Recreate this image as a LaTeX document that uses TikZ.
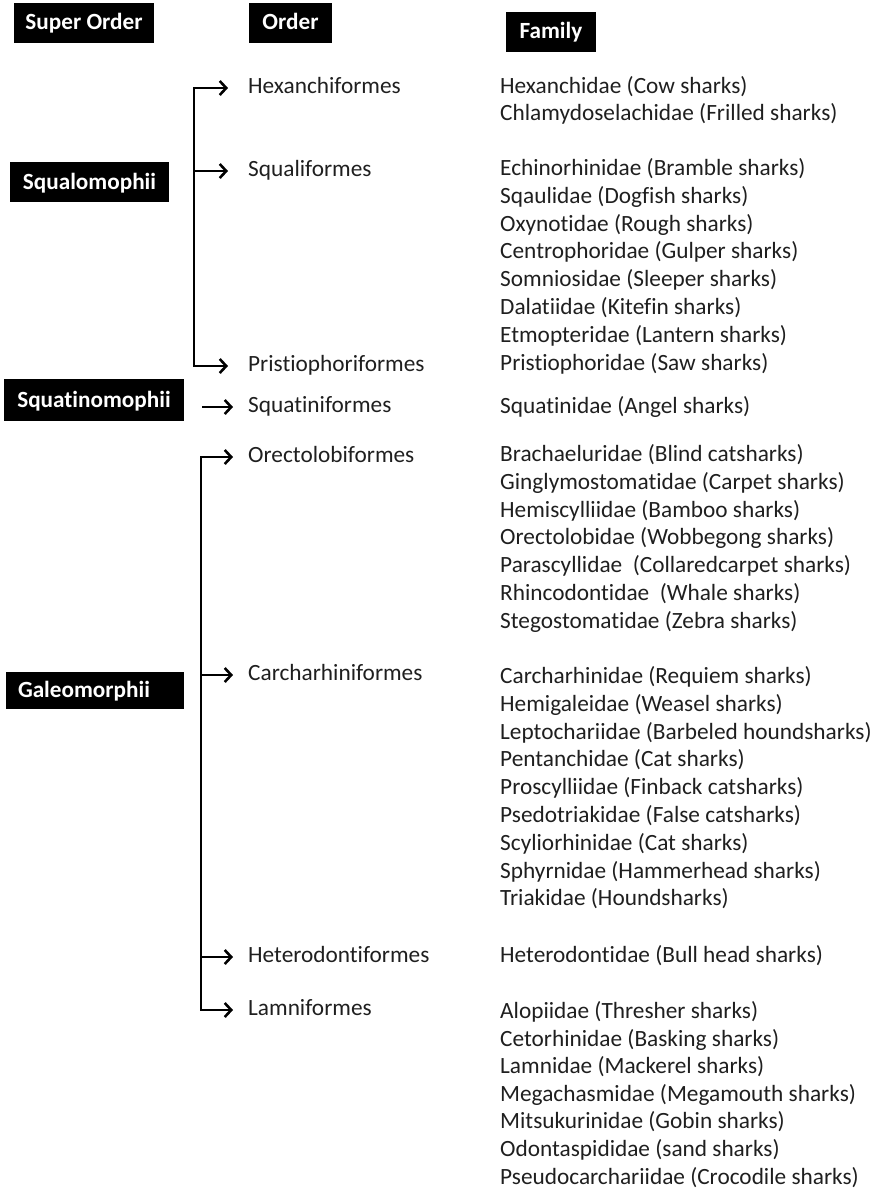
\documentclass[tikz,border=0pt]{standalone}
\usepackage{fontspec}
\setmainfont{Carlito}[RawFeature={-liga;-clig;-dlig}]
\usetikzlibrary{arrows.meta,calc}
\tikzset{
  hdr/.style={fill=black, text=white, font=\bfseries\fontsize{23.2}{27}\selectfont,
    inner xsep=0pt, inner ysep=0pt, minimum height=40pt, text height=17pt, text depth=3pt},
  txt/.style={anchor=west, inner sep=0pt, font=\fontsize{23.3}{27}\selectfont,
    text height=16pt, text depth=5pt, text=black!88},
  arr/.style={line width=2.6pt, -{Straight Barb[length=6.5pt,width=14pt]}},
  arr2/.style={line width=2.6pt, {Straight Barb[length=6.5pt,width=14pt]}-{Straight Barb[length=6.5pt,width=14pt]}}
}
\begin{document}
\begin{tikzpicture}[x=1pt,y=-1pt]
\useasboundingbox (0,0) rectangle (883,1192);
% headers
\node[hdr, minimum width=140pt] (hsup) at (84,22.5) {Super Order};
\node[hdr, minimum width=83pt] (hord) at (290.5,22.5) {Order};
\node[hdr, minimum width=90pt] (hfam) at (551,31.5) {Family};
% super orders
\node[hdr, minimum width=159pt] (squalo) at (89.5,182) {Squalomophii};
\node[hdr, minimum width=180pt, minimum height=42pt] (squatino) at (94,400) {Squatinomophii};
\node[hdr, minimum height=37pt, text width=154pt, inner xsep=12pt, align=left] (galeo) at (95,690) {Galeomorphii};
% orders
\node[txt] (hex) at (248,88) {Hexanchiformes};
\node[txt] (squal) at (248,171) {Squaliformes};
\node[txt] (pris) at (248,366) {Pristiophoriformes};
\node[txt] (squat) at (248,407) {Squatiniformes};
\node[txt] (orec) at (248,457) {Orectolobiformes};
\node[txt] (carc) at (248,675) {Carcharhiniformes};
\node[txt] (hete) at (248,957) {Heterodontiformes};
\node[txt] (lamn) at (248,1010) {Lamniformes};
% families
\foreach \t [count=\i] in {Hexanchidae (Cow sharks), Chlamydoselachidae (Frilled sharks)}
  \node[txt] (fa\i) at (500,{88+(\i-1)*27.0}) {\t};
\foreach \t [count=\i] in {Echinorhinidae (Bramble sharks), Sqaulidae (Dogfish sharks), Oxynotidae (Rough sharks), Centrophoridae (Gulper sharks), Somniosidae (Sleeper sharks), Dalatiidae (Kitefin sharks), Etmopteridae (Lantern sharks), Pristiophoridae (Saw sharks)}
  \node[txt] (fb\i) at (500,{170+(\i-1)*27.8}) {\t};
\node[txt] (fc1) at (500,408) {Squatinidae (Angel sharks)};
\foreach \t [count=\i] in {Brachaeluridae (Blind catsharks), Ginglymostomatidae (Carpet sharks), Hemiscylliidae (Bamboo sharks), Orectolobidae (Wobbegong sharks), Parascyllidae\ \ (Collaredcarpet sharks), Rhincodontidae\ \ (Whale sharks), Stegostomatidae (Zebra sharks)}
  \node[txt] (fd\i) at (500,{456+(\i-1)*27.8}) {\t};
\foreach \t [count=\i] in {Carcharhinidae (Requiem sharks), Hemigaleidae (Weasel sharks), Leptochariidae (Barbeled houndsharks), Pentanchidae (Cat sharks), Proscylliidae (Finback catsharks), Psedotriakidae (False catsharks), Scyliorhinidae (Cat sharks), Sphyrnidae (Hammerhead sharks), Triakidae (Houndsharks)}
  \node[txt] (fe\i) at (500,{678+(\i-1)*27.8}) {\t};
\node[txt] (ff1) at (500,957) {Heterodontidae (Bull head sharks)};
\foreach \t [count=\i] in {Alopiidae (Thresher sharks), Cetorhinidae (Basking sharks), Lamnidae (Mackerel sharks), Megachasmidae (Megamouth sharks), Mitsukurinidae (Gobin sharks), Odontaspididae (sand sharks), Pseudocarchariidae (Crocodile sharks)}
  \node[txt] (fg\i) at (500,{1013+(\i-1)*27.6}) {\t};
% brackets
\coordinate (spA) at (194,0);
\coordinate (spB) at (201,0);
\draw[arr2, line join=miter] ([xshift=-20pt]hex.west) -- (spA |- hex.west) -- (spA |- pris.west) -- ([xshift=-20pt]pris.west);
\draw[arr] (spA |- squal.west) -- ([xshift=-20pt]squal.west);
\coordinate (sqs) at ([xshift=18pt]squatino.east);
\draw[arr] (sqs |- squat.west) -- ([xshift=-15pt]squat.west);
\draw[arr2, line join=miter] ([xshift=-15pt]orec.west) -- (spB |- orec.west) -- (spB |- lamn.west) -- ([xshift=-15pt]lamn.west);
\draw[arr] (spB |- carc.west) -- ([xshift=-15pt]carc.west);
\draw[arr] (spB |- hete.west) -- ([xshift=-15pt]hete.west);
\end{tikzpicture}
\end{document}
